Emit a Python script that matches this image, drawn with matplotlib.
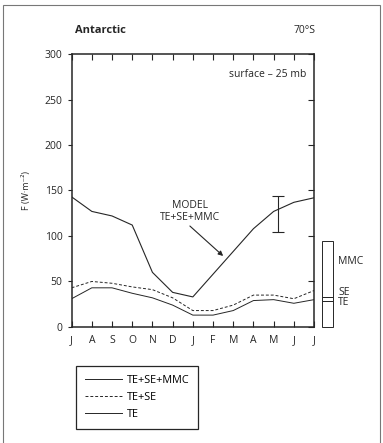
import matplotlib.pyplot as plt
from matplotlib.patches import Rectangle

months = ['J', 'A', 'S', 'O', 'N', 'D', 'J', 'F', 'M', 'A', 'M', 'J', 'J']
total = [143, 127, 122, 112, 60, 38, 33, 58, 83, 108, 127, 137, 142]
te_se = [43, 50, 48, 44, 41, 32, 18, 18, 24, 35, 35, 31, 40]
te = [31, 43, 43, 37, 32, 24, 13, 13, 18, 29, 30, 26, 30]
model_x = 10.2
model_lo, model_hi = 104, 144
bar_te, bar_se, bar_mmc = 29, 4, 62

ink = '#262626'
plt.rcParams['font.family'] = ['Open Sans', 'DejaVu Sans']
plt.rcParams['font.size'] = 7.5

fig = plt.figure(figsize=(3.83, 4.43), dpi=100)
ax = fig.add_axes([0.187, 0.262, 0.633, 0.616])
x = list(range(len(months)))

ax.plot(x, total, color=ink, lw=0.8)
ax.plot(x, te_se, color=ink, lw=0.7, ls=(0, (3, 2)))
ax.plot(x, te, color=ink, lw=0.7)
ax.errorbar([model_x], [(model_lo + model_hi) / 2], yerr=[[(model_hi - model_lo) / 2]],
            color=ink, lw=0.8, capsize=4, capthick=0.8, fmt='none')

ax.annotate('MODEL\nTE+SE+MMC', xy=(7.5, 78), xytext=(5.85, 114), ha='center', va='bottom',
            fontsize=7.5, color=ink, linespacing=1.1,
            arrowprops=dict(arrowstyle='-|>', color=ink, lw=0.8, mutation_scale=7,
                            shrinkA=0, shrinkB=0, relpos=(0.45, 0)))

ax.set_xlim(0, 12)
ax.set_ylim(0, 300)
ax.set_xticks(x)
ax.set_xticklabels(months)
ax.set_yticks([0, 50, 100, 150, 200, 250, 300])
ax.tick_params(axis='x', direction='in', top=True, length=4, width=0.8, pad=6, colors=ink)
ax.tick_params(axis='y', direction='out', length=3, width=0.8, colors=ink)
ax.tick_params(axis='y', which='major', right=True)
for t in ax.yaxis.get_ticklines()[1::2]:
    t.set_marker(0)
    t.set_markersize(4)
for s in ax.spines.values():
    s.set_linewidth(1.1)
    s.set_color(ink)

ax.set_ylabel('F (W·m⁻²)', fontsize=6.5, color=ink, labelpad=10)
fig.text(0.196, 0.925, 'Antarctic', fontsize=8, fontweight='bold', color=ink)
fig.text(0.825, 0.925, '70°S', fontsize=7.5, color=ink, ha='right')
ax.text(0.97, 0.915, 'surface – 25 mb', transform=ax.transAxes, ha='right', fontsize=7.5, color=ink)

# stacked bar to the right of the axes
bx, bw = 12.4, 0.55
y0 = 0
for h in [bar_te, bar_se, bar_mmc]:
    ax.add_patch(Rectangle((bx, y0), bw, h, fill=False, ec=ink, lw=0.7, clip_on=False))
    y0 += h
ax.text(bx + bw + 0.25, 72, 'MMC', fontsize=7.5, color=ink, va='center', clip_on=False)
ax.text(bx + bw + 0.25, 38, 'SE', fontsize=7.5, color=ink, va='center', clip_on=False)
ax.text(bx + bw + 0.25, 27, 'TE', fontsize=7.5, color=ink, va='center', clip_on=False)

h1, = ax.plot([], [], color=ink, lw=0.7)
h2, = ax.plot([], [], color=ink, lw=0.7, ls=(0, (3, 2)))
h3, = ax.plot([], [], color=ink, lw=0.7)
leg = fig.legend([h1, h2, h3], ['TE+SE+MMC', 'TE+SE', 'TE'], loc='upper left',
                 bbox_to_anchor=(0.185, 0.185), fancybox=False, edgecolor=ink,
                 handlelength=3.4, labelspacing=0.55, borderpad=0.8, fontsize=7.8,
                 framealpha=1, handletextpad=0.5)
leg.get_frame().set_linewidth(0.9)

fig.patches.append(Rectangle((0.008, -0.01), 0.985, 0.998, transform=fig.transFigure,
                             fill=False, ec='#777777', lw=0.8))

fig.savefig('out.png', dpi=100)
